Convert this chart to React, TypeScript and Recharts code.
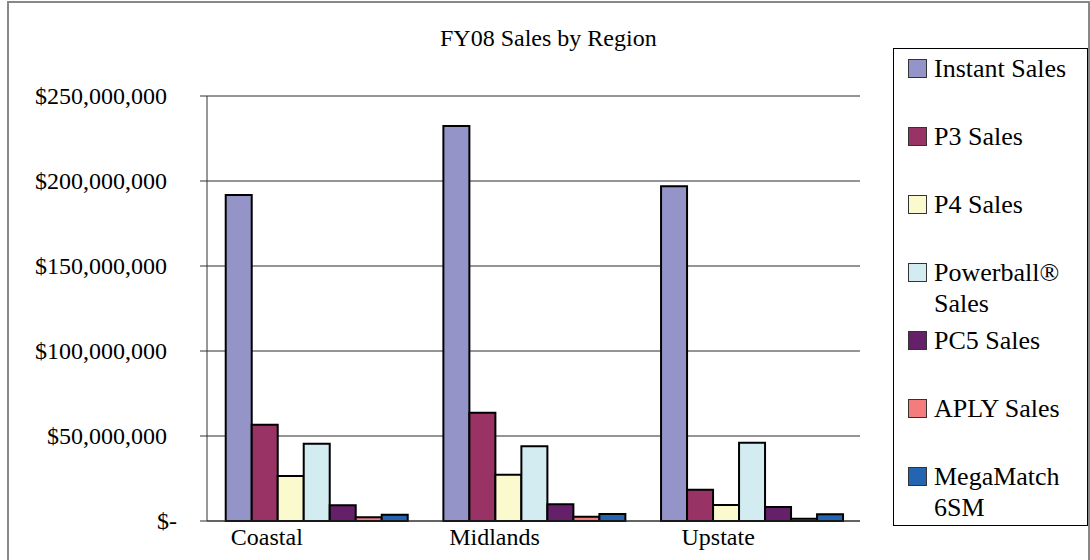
import { Bar, BarChart, CartesianGrid, XAxis, YAxis, Legend } from 'recharts'

const regions = ['Coastal', 'Midlands', 'Upstate']

const instantSales = [191800000, 232400000, 196900000]
const p3Sales = [56600000, 63700000, 18400000]
const p4Sales = [26500000, 27200000, 9400000]
const powerballSales = [45500000, 43900000, 46000000]
const pc5Sales = [9200000, 9800000, 8200000]
const aplySales = [2200000, 2500000, 1300000]
const megaMatchSales = [3700000, 4100000, 3900000]

const yTicks = [0, 50000000, 100000000, 150000000, 200000000, 250000000]

const series = [
  { key: 'instant', name: 'Instant Sales', values: instantSales, color: '#9494C8' },
  { key: 'p3', name: 'P3 Sales', values: p3Sales, color: '#993366' },
  { key: 'p4', name: 'P4 Sales', values: p4Sales, color: '#FBF9CE' },
  { key: 'powerball', name: 'Powerball® Sales', values: powerballSales, color: '#D3ECF2' },
  { key: 'pc5', name: 'PC5 Sales', values: pc5Sales, color: '#65206A' },
  { key: 'aply', name: 'APLY Sales', values: aplySales, color: '#F47C7C' },
  { key: 'mega', name: 'MegaMatch 6SM', values: megaMatchSales, color: '#2465B2' },
]

const data = regions.map((region, i) => {
  const row: Record<string, string | number> = { region }
  series.forEach((s) => {
    row[s.key] = s.values[i]
  })
  return row
})

const FONT = '"Liberation Serif", "Times New Roman", serif'

// excel-ish label placement under each group
const xLabelShift = [-49, -39, -33]

function YTick({ x, y, payload }: any) {
  const v = payload.value as number
  const label = v === 0 ? '$-' : '$' + v.toLocaleString('en-US')
  return (
    <text x={v === 0 ? x + 10 : x} y={y} dy="0.35em" textAnchor="end" fontFamily={FONT} fontSize={24} fill="#000">
      {label}
    </text>
  )
}

function XTick({ x, y, payload, index }: any) {
  return (
    <text x={x + (xLabelShift[index] ?? 0)} y={y} dy={16} textAnchor="middle" fontFamily={FONT} fontSize={24} fill="#000">
      {payload.value}
    </text>
  )
}

// legend drawn in series order (recharts sorts payload by name otherwise)
function LegendBox() {
  return (
    <div
      style={{
        width: 195,
        height: 478,
        boxSizing: 'border-box',
        border: '1px solid #000',
        background: '#fff',
        paddingTop: 4,
        fontFamily: FONT,
        fontSize: 26,
        lineHeight: '31px',
      }}
    >
      {series.map((s) => (
        <div key={s.key} style={{ height: 68, display: 'flex', alignItems: 'flex-start', paddingLeft: 14 }}>
          <span
            style={{
              display: 'inline-block',
              width: 19,
              height: 19,
              marginTop: 6,
              marginRight: 7,
              flex: 'none',
              background: s.color,
              border: '1px solid #333',
              boxSizing: 'border-box',
            }}
          />
          <span style={{ width: 150, color: '#000' }}>{s.name}</span>
        </div>
      ))}
    </div>
  )
}

export default function App() {
  return (
    <div style={{ position: 'fixed', left: 0, top: 0, width: 1090, height: 560, overflow: 'hidden', background: '#fff' }}>
      <div
        style={{
          position: 'absolute',
          left: 7,
          top: 1,
          width: 1083,
          height: 600,
          border: '2px solid #888',
          boxSizing: 'border-box',
        }}
      />
      <div
        style={{
          position: 'absolute',
          left: 440,
          width: 200,
          top: 26,
          textAlign: 'center',
          fontFamily: FONT,
          fontSize: 24,
          lineHeight: '24px',
          whiteSpace: 'nowrap',
          color: '#000',
        }}
      >
        FY08 Sales by Region
      </div>
      <div style={{ position: 'absolute', left: 0, top: 0 }}>
        <BarChart
          width={1090}
          height={560}
          data={data}
          margin={{ top: 96, right: 230, bottom: 0, left: 7 }}
          barCategoryGap="8.6%"
          barGap={0}
        >
          <CartesianGrid vertical={false} stroke="#2a2a2a" strokeWidth={1} />
          <XAxis
            dataKey="region"
            height={39}
            axisLine={{ stroke: '#333' }}
            tickLine={false}
            tick={<XTick />}
            interval={0}
          />
          <YAxis
            width={200}
            domain={[0, 250000000]}
            ticks={yTicks}
            axisLine={{ stroke: '#333' }}
            tickLine={{ stroke: '#333' }}
            tickSize={7}
            tickMargin={33}
            tick={<YTick />}
          />
          <Legend
            layout="vertical"
            align="center"
            verticalAlign="middle"
            content={<LegendBox />}
            wrapperStyle={{ left: 893, top: 48, width: 195, height: 478 }}
          />
          {series.map((s) => (
            <Bar
              key={s.key}
              dataKey={s.key}
              name={s.name}
              fill={s.color}
              stroke="#000"
              strokeWidth={2}
              isAnimationActive={false}
            />
          ))}
        </BarChart>
      </div>
    </div>
  )
}
